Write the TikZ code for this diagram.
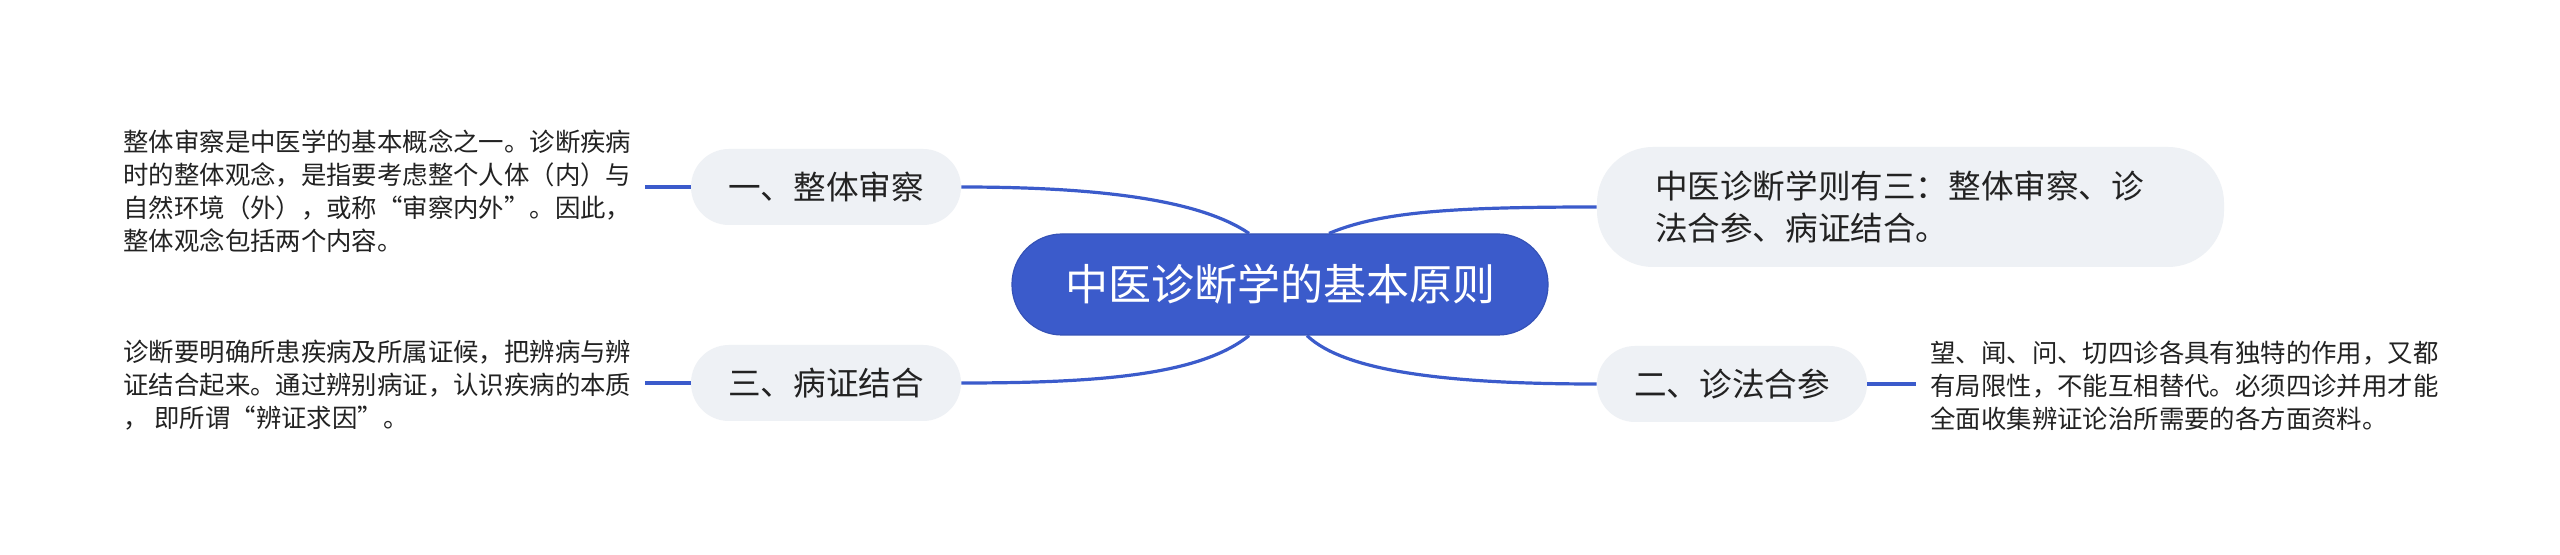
\documentclass[tikz,border=0pt]{standalone}
\usepackage{fontspec}
\setmainfont{Noto Sans CJK SC}
\usetikzlibrary{calc}
\definecolor{mainblue}{HTML}{3B5BCB}
\definecolor{subfill}{HTML}{EEF1F5}
\definecolor{txt}{HTML}{222222}
\tikzset{
  centerbox/.style={draw=mainblue!90!black, line width=0.6pt, fill=mainblue, text=white, rounded corners=25pt,
    minimum width=268pt, minimum height=50.5pt, inner sep=0pt, font=\fontsize{21.5pt}{26pt}\selectfont},
  subbox/.style={fill=subfill, text=txt, rounded corners=19pt, minimum width=135pt, minimum height=38pt,
    inner sep=0pt, font=\fontsize{16.3pt}{21pt}\selectfont},
  bigsub/.style={fill=subfill, text=txt, rounded corners=28pt, minimum width=313.5pt, minimum height=60pt,
    inner sep=0pt, align=left, font=\fontsize{16.3pt}{21pt}\selectfont},
  note/.style={text=txt, inner sep=0pt, align=left, font=\fontsize{12.7pt}{16.5pt}\selectfont},
  link/.style={draw=mainblue, line width=1.6pt},
  stub/.style={draw=mainblue, line width=1.8pt}
}
\begin{document}
\begin{tikzpicture}[x=0.5pt, y=-0.5pt]
\useasboundingbox[fill=white] (0,0) rectangle (2560,555);
% central
\node[centerbox] (c) at (1280,284.5) {中医诊断学的基本原则};
% sub nodes
\node[subbox] (n1) at (826,187) {一、整体审察};
\node[subbox] (n3) at (826,383) {三、病证结合};
\node[subbox] (n2) at (1732,384) {二、诊法合参};
\node[bigsub] (tr) at (1910.5,207) {中医诊断学则有三：整体审察、诊\hspace*{11pt}\\法合参、病证结合。};
% notes
\node[note, anchor=west] (t1) at (123,191.5) {整体审察是中医学的基本概念之一。诊断疾病\\时的整体观念，是指要考虑整个人体（内）与\\自然环境（外），或称“审察内外”。因此，\\整体观念包括两个内容。};
\node[note, anchor=west] (t3) at (123,385) {诊断要明确所患疾病及所属证候，把辨病与辨\\证结合起来。通过辨别病证，认识疾病的本质\\， 即所谓“辨证求因”。};
\node[note, anchor=west] (t2) at (1930,386) {望、闻、问、切四诊各具有独特的作用，又都\\有局限性，不能互相替代。必须四诊并用才能\\全面收集辨证论治所需要的各方面资料。};
% curved links
\draw[link] ($(c.north)+(-31,0)$) .. controls (1200,200) and (1100,187) .. (n1.east);
\draw[link] ($(c.north)+(49,0)$) .. controls (1380,212) and (1450,207) .. (tr.west);
\draw[link] ($(c.south)+(-31,0)$) .. controls (1200,375) and (1100,383) .. (n3.east);
\draw[link] ($(c.south)+(27,0)$) .. controls (1345,372) and (1450,384) .. (n2.west);
% stubs
\coordinate (s1) at (645,187);
\coordinate (s3) at (645,383);
\coordinate (s2) at (1916,384);
\draw[stub] (s1) -- (n1.west);
\draw[stub] (s3) -- (n3.west);
\draw[stub] (n2.east) -- (s2);
\end{tikzpicture}
\end{document}
